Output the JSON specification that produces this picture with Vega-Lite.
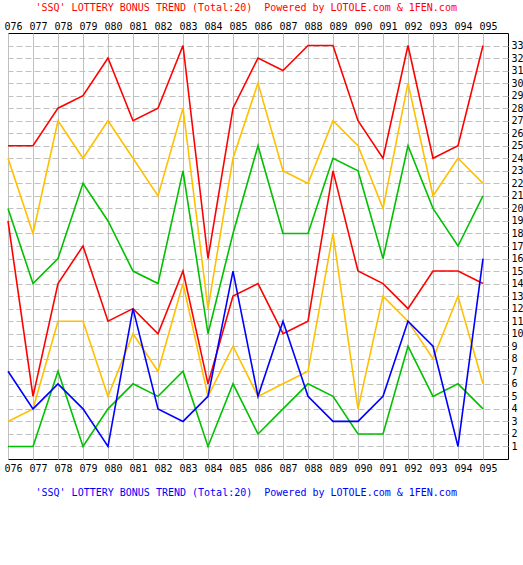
{
  "$schema": "https://vega.github.io/schema/vega-lite/v6.json",
  "width": 500,
  "height": 426,
  "autosize": {"type": "none"},
  "padding": {"left": 8, "top": 33, "right": 15, "bottom": 106},
  "background": "#ffffff",
  "config": {
    "view": {"stroke": "#000000", "strokeWidth": 1},
    "font": "DejaVu Sans Mono"
  },
  "data": {
    "values": [
      {"p":76,"s":"n1","v":1},{"p":77,"s":"n1","v":1},{"p":78,"s":"n1","v":7},{"p":79,"s":"n1","v":1},{"p":80,"s":"n1","v":4},
      {"p":81,"s":"n1","v":6},{"p":82,"s":"n1","v":5},{"p":83,"s":"n1","v":7},{"p":84,"s":"n1","v":1},{"p":85,"s":"n1","v":6},
      {"p":86,"s":"n1","v":2},{"p":87,"s":"n1","v":4},{"p":88,"s":"n1","v":6},{"p":89,"s":"n1","v":5},{"p":90,"s":"n1","v":2},
      {"p":91,"s":"n1","v":2},{"p":92,"s":"n1","v":9},{"p":93,"s":"n1","v":5},{"p":94,"s":"n1","v":6},{"p":95,"s":"n1","v":4},

      {"p":76,"s":"n2","v":3},{"p":77,"s":"n2","v":4},{"p":78,"s":"n2","v":11},{"p":79,"s":"n2","v":11},{"p":80,"s":"n2","v":5},
      {"p":81,"s":"n2","v":10},{"p":82,"s":"n2","v":7},{"p":83,"s":"n2","v":14},{"p":84,"s":"n2","v":5},{"p":85,"s":"n2","v":9},
      {"p":86,"s":"n2","v":5},{"p":87,"s":"n2","v":6},{"p":88,"s":"n2","v":7},{"p":89,"s":"n2","v":18},{"p":90,"s":"n2","v":4},
      {"p":91,"s":"n2","v":13},{"p":92,"s":"n2","v":11},{"p":93,"s":"n2","v":8},{"p":94,"s":"n2","v":13},{"p":95,"s":"n2","v":6},

      {"p":76,"s":"n3","v":19},{"p":77,"s":"n3","v":5},{"p":78,"s":"n3","v":14},{"p":79,"s":"n3","v":17},{"p":80,"s":"n3","v":11},
      {"p":81,"s":"n3","v":12},{"p":82,"s":"n3","v":10},{"p":83,"s":"n3","v":15},{"p":84,"s":"n3","v":6},{"p":85,"s":"n3","v":13},
      {"p":86,"s":"n3","v":14},{"p":87,"s":"n3","v":10},{"p":88,"s":"n3","v":11},{"p":89,"s":"n3","v":23},{"p":90,"s":"n3","v":15},
      {"p":91,"s":"n3","v":14},{"p":92,"s":"n3","v":12},{"p":93,"s":"n3","v":15},{"p":94,"s":"n3","v":15},{"p":95,"s":"n3","v":14},

      {"p":76,"s":"n4","v":20},{"p":77,"s":"n4","v":14},{"p":78,"s":"n4","v":16},{"p":79,"s":"n4","v":22},{"p":80,"s":"n4","v":19},
      {"p":81,"s":"n4","v":15},{"p":82,"s":"n4","v":14},{"p":83,"s":"n4","v":23},{"p":84,"s":"n4","v":10},{"p":85,"s":"n4","v":18},
      {"p":86,"s":"n4","v":25},{"p":87,"s":"n4","v":18},{"p":88,"s":"n4","v":18},{"p":89,"s":"n4","v":24},{"p":90,"s":"n4","v":23},
      {"p":91,"s":"n4","v":16},{"p":92,"s":"n4","v":25},{"p":93,"s":"n4","v":20},{"p":94,"s":"n4","v":17},{"p":95,"s":"n4","v":21},

      {"p":76,"s":"n5","v":24},{"p":77,"s":"n5","v":18},{"p":78,"s":"n5","v":27},{"p":79,"s":"n5","v":24},{"p":80,"s":"n5","v":27},
      {"p":81,"s":"n5","v":24},{"p":82,"s":"n5","v":21},{"p":83,"s":"n5","v":28},{"p":84,"s":"n5","v":12},{"p":85,"s":"n5","v":24},
      {"p":86,"s":"n5","v":30},{"p":87,"s":"n5","v":23},{"p":88,"s":"n5","v":22},{"p":89,"s":"n5","v":27},{"p":90,"s":"n5","v":25},
      {"p":91,"s":"n5","v":20},{"p":92,"s":"n5","v":30},{"p":93,"s":"n5","v":21},{"p":94,"s":"n5","v":24},{"p":95,"s":"n5","v":22},

      {"p":76,"s":"n6","v":25},{"p":77,"s":"n6","v":25},{"p":78,"s":"n6","v":28},{"p":79,"s":"n6","v":29},{"p":80,"s":"n6","v":32},
      {"p":81,"s":"n6","v":27},{"p":82,"s":"n6","v":28},{"p":83,"s":"n6","v":33},{"p":84,"s":"n6","v":16},{"p":85,"s":"n6","v":28},
      {"p":86,"s":"n6","v":32},{"p":87,"s":"n6","v":31},{"p":88,"s":"n6","v":33},{"p":89,"s":"n6","v":33},{"p":90,"s":"n6","v":27},
      {"p":91,"s":"n6","v":24},{"p":92,"s":"n6","v":33},{"p":93,"s":"n6","v":24},{"p":94,"s":"n6","v":25},{"p":95,"s":"n6","v":33},

      {"p":76,"s":"b","v":7},{"p":77,"s":"b","v":4},{"p":78,"s":"b","v":6},{"p":79,"s":"b","v":4},{"p":80,"s":"b","v":1},
      {"p":81,"s":"b","v":12},{"p":82,"s":"b","v":4},{"p":83,"s":"b","v":3},{"p":84,"s":"b","v":5},{"p":85,"s":"b","v":15},
      {"p":86,"s":"b","v":5},{"p":87,"s":"b","v":11},{"p":88,"s":"b","v":5},{"p":89,"s":"b","v":3},{"p":90,"s":"b","v":3},
      {"p":91,"s":"b","v":5},{"p":92,"s":"b","v":11},{"p":93,"s":"b","v":9},{"p":94,"s":"b","v":1},{"p":95,"s":"b","v":16}
    ]
  },
  "encoding": {
    "y": {
      "field": "v",
      "type": "quantitative",
      "scale": {"domain": [0, 34], "nice": false, "zero": false},
      "axis": {
        "orient": "right",
        "values": [1,2,3,4,5,6,7,8,9,10,11,12,13,14,15,16,17,18,19,20,21,22,23,24,25,26,27,28,29,30,31,32,33],
        "grid": true,
        "gridColor": "#c0c0c0",
        "gridDash": [6, 3],
        "gridWidth": 1,
        "domain": false,
        "ticks": false,
        "labelPadding": 3,
        "labelFont": "DejaVu Sans Mono",
        "labelFontSize": 10,
        "labelColor": "#000000",
        "labelAlign": "left",
        "labelBaseline": "middle",
        "labelFlush": false,
        "labelOverlap": false,
        "title": null
      }
    },
    "color": {
      "field": "s",
      "type": "nominal",
      "legend": null,
      "scale": {
        "domain": ["n1","n2","n3","n4","n5","n6","b"],
        "range": ["#00c000","#ffc000","#ff0000","#00c000","#ffc000","#ff0000","#0000ff"]
      }
    }
  },
  "layer": [
    {
      "mark": {"type": "point", "opacity": 0, "size": 1},
      "encoding": {
        "x": {
          "field": "p",
          "type": "quantitative",
          "scale": {"domain": [76, 96], "nice": false, "zero": false},
          "axis": {
            "orient": "top",
            "values": [76,77,78,79,80,81,82,83,84,85,86,87,88,89,90,91,92,93,94,95],
            "labelExpr": "'0' + datum.value",
            "grid": false,
            "domain": false,
            "ticks": false,
            "labelPadding": 2,
            "labelOffset": 5,
            "labelFont": "DejaVu Sans Mono",
            "labelFontSize": 10,
            "labelColor": "#000000",
            "labelFlush": false,
            "labelOverlap": false,
            "title": "'SSQ' LOTTERY BONUS TREND (Total:20)\u00a0 Powered by LOTOLE.com & 1FEN.com",
            "titleColor": "#ff0000",
            "titleFont": "DejaVu Sans Mono",
            "titleFontSize": 10,
            "titleFontWeight": "normal",
            "titleAlign": "left",
            "titleBaseline": "middle",
            "titleX": 27,
            "titleY": -26
          }
        }
      }
    },
    {
      "mark": {"type": "line", "strokeWidth": 1.6, "interpolate": "linear"},
      "encoding": {
        "x": {
          "field": "p",
          "type": "quantitative",
          "scale": {"domain": [76, 96], "nice": false, "zero": false},
          "axis": {
            "orient": "bottom",
            "values": [76,77,78,79,80,81,82,83,84,85,86,87,88,89,90,91,92,93,94,95],
            "labelExpr": "'0' + datum.value",
            "grid": true,
            "gridColor": "#c0c0c0",
            "gridWidth": 1,
            "domain": false,
            "ticks": false,
            "labelPadding": 4,
            "labelOffset": 5,
            "labelFont": "DejaVu Sans Mono",
            "labelFontSize": 10,
            "labelColor": "#000000",
            "labelFlush": false,
            "labelOverlap": false,
            "title": "'SSQ' LOTTERY BONUS TREND (Total:20)\u00a0 Powered by LOTOLE.com & 1FEN.com",
            "titleColor": "#0000ff",
            "titleFont": "DejaVu Sans Mono",
            "titleFontSize": 10,
            "titleFontWeight": "normal",
            "titleAlign": "left",
            "titleBaseline": "middle",
            "titleX": 27,
            "titleY": 33
          }
        },
        "order": {"field": "p", "type": "quantitative"}
      }
    }
  ],
  "resolve": {"axis": {"x": "independent"}}
}
